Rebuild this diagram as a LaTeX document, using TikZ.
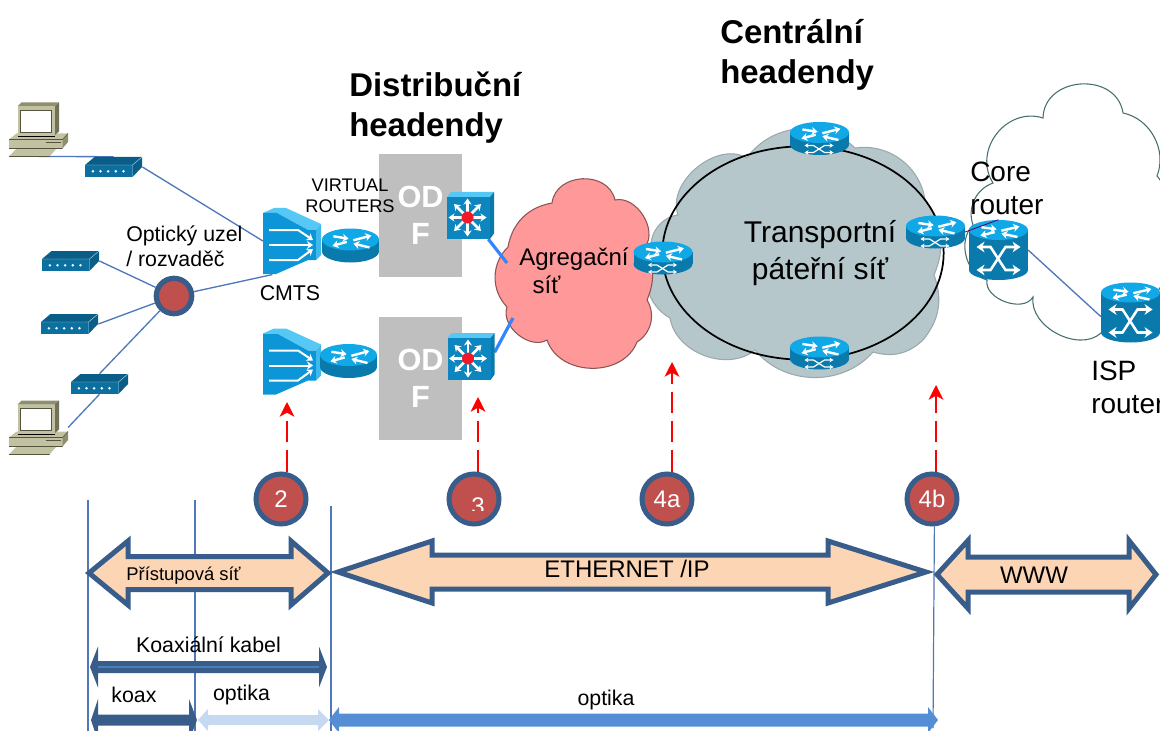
\documentclass[tikz,border=0pt]{standalone}
\usepackage{fontspec}
\setmainfont{Liberation Sans}
\usetikzlibrary{arrows.meta}
\usetikzlibrary{shapes.geometric}

\definecolor{lidblue}{HTML}{10A8E6}
\definecolor{bodyblue}{HTML}{0A79AB}
\definecolor{modemblue}{HTML}{0B6F9F}
\definecolor{cmtsblue}{HTML}{0C96D8}
\definecolor{cmtslight}{HTML}{55C8F5}
\definecolor{switchblue}{HTML}{0D85BE}
\definecolor{pcfront}{HTML}{C2C2A2}
\definecolor{pcdark}{HTML}{8F8F6F}
\definecolor{pcline}{HTML}{55553D}
\definecolor{linkblue}{HTML}{4F78BA}
\definecolor{rimblue}{HTML}{385D8A}
\definecolor{numred}{HTML}{C0504D}
\definecolor{peach}{HTML}{FCD5B5}
\definecolor{midblue}{HTML}{4A7EBB}
\definecolor{paleblue}{HTML}{C6D9F1}
\definecolor{fibreblue}{HTML}{558ED5}
\definecolor{odfgrey}{HTML}{BFBFBF}
\definecolor{transgrey}{HTML}{B5C7CB}
\definecolor{aggred}{HTML}{FF9999}

\newcommand{\lidarrows}{ % four arrows on a router lid
  \draw[lidarrow] (-18,-4) -- (-2,-1);
  \draw[lidarrow] (3,1) -- (22,-5);
  \draw[lidarrow] (-4,3) -- (-19,8);
  \draw[lidarrow] (20,10) -- (3,5);
}
% style, tip left, back left, back right, tip right, mid y, half shaft, half barb
\newcommand{\bararrow}[8]{
  \path[#1] (#2,#6) -- (#3,#6-#8) -- (#3,#6-#7) -- (#4,#6-#7) -- (#4,#6-#8) -- (#5,#6)
    -- (#4,#6+#8) -- (#4,#6+#7) -- (#3,#6+#7) -- (#3,#6+#8) -- cycle;
}

\tikzset{every node/.style={align=center, inner sep=0pt},
         iconbox/.style={rectangle},
         routerbox/.style={iconbox, minimum width=43pt, minimum height=26pt},
         richbox/.style={iconbox, minimum width=44pt, minimum height=25pt},
         corebox/.style={iconbox, minimum width=44pt, minimum height=45pt},
         cmtsbox/.style={iconbox, minimum width=44pt, minimum height=50pt},
         switchbox/.style={iconbox, minimum width=35pt, minimum height=35pt},
         modembox/.style={iconbox, minimum width=43pt, minimum height=15pt},
         pcbox/.style={iconbox, minimum width=44pt, minimum height=40pt},
         lidarrow/.style={white, line width=1.8pt, -{Stealth[length=4.5pt,width=6pt]}},
         shufarrow/.style={white, line width=0.9pt, {Stealth[length=3pt,width=3.5pt]}-{Stealth[length=3pt,width=3.5pt]}},
         bigshuf/.style={white, line width=1.9pt, {Stealth[length=6pt,width=8pt]}-{Stealth[length=6pt,width=8pt]}},
         odfbox/.style={rectangle, fill=odfgrey, minimum width=62.5pt, minimum height=92.5pt,
           text=white, font=\fontsize{23}{28}\selectfont\bfseries},
         numcircle/.style={circle, draw=rimblue, fill=numred, line width=3.75pt, minimum size=37.5pt,
           text=white, font=\fontsize{18}{21}\selectfont},
         optnode/.style={circle, draw=rimblue, fill=numred, line width=4pt, minimum size=26.5pt},
         link/.style={draw=linkblue, line width=1pt},
         guide/.style={draw=linkblue, line width=0.9pt},
         thicklink/.style={draw=blue!60!cyan!80, line width=2.4pt},
         probe/.style={draw=red, line width=1.6pt, dash pattern=on 16pt off 6pt,
           -{Stealth[length=11pt,width=11pt,inset=3pt]}},
         blockarrow/.style={draw=rimblue, fill=peach, line width=3.75pt},
         bigtitle/.style={anchor=west, align=left, font=\fontsize{24.7}{30.3}\selectfont\bfseries},
         biglabel/.style={font=\fontsize{22.5}{28}\selectfont},
         routerlabel/.style={anchor=west, align=left, font=\fontsize{21}{24.7}\selectfont},
         midlabel/.style={font=\fontsize{18}{21}\selectfont},
         smalllabel/.style={font=\fontsize{16}{18.7}\selectfont},
         tinylabel/.style={font=\fontsize{13.8}{15.8}\selectfont},
         routericon/.pic={
           \fill[bodyblue] (0,6) ellipse (28.5 and 11);
           \fill[bodyblue] (-28.5,-6) rectangle (28.5,6);
           \fill[lidblue] (0,-6) ellipse (28.5 and 11);
           \begin{scope}[yshift=4.5pt, xscale=0.95, yscale=0.8]\lidarrows\end{scope}
         },
         richicon/.pic={
           \fill[bodyblue] (0,6) ellipse (29.5 and 10.5);
           \fill[bodyblue] (-29.5,-6) rectangle (29.5,6);
           \fill[lidblue] (0,-6) ellipse (29.5 and 10.5);
           \begin{scope}[yshift=4.5pt, xscale=0.95, yscale=0.75]\lidarrows\end{scope}
           \draw[shufarrow] (-15,7) -- (-6,7) -- (5,14) -- (14,14);
           \draw[shufarrow] (-15,14) -- (-6,14) -- (5,7) -- (14,7);
         },
         coreicon/.pic={
           \fill[bodyblue] (0,20) ellipse (29.5 and 10);
           \fill[bodyblue] (-29.5,-20) rectangle (29.5,20);
           \fill[lidblue] (0,-20) ellipse (29.5 and 10);
           \begin{scope}[yshift=15pt, xscale=0.95, yscale=0.7]\lidarrows\end{scope}
           \draw[bigshuf] (-22,-3) -- (-8,-3) -- (7,20) -- (22,20);
           \draw[bigshuf] (-22,20) -- (-8,20) -- (7,-3) -- (22,-3);
         },
         cmtsicon/.pic={
           \fill[cmtslight] (-29.5,-28) -- (-18.5,-33) -- (-6.5,-33) -- (28.5,-17) -- (23.5,-11) -- (15.5,-11) -- (-15.5,-28) -- cycle;
           \fill[cmtsblue] (-29.5,-28) -- (-15.5,-28) -- (15.5,-11) -- (23.5,-11) -- (23.5,19) -- (15.5,19) -- (-16.5,33) -- (-29.5,33) -- cycle;
           \fill[cmtslight!70!cmtsblue] (23.5,-11) -- (28.5,-17) -- (28.5,14) -- (23.5,19) -- cycle;
           \foreach \u/\v in {-11/-1,4/4,19/8} {
             \draw[white, line width=1.5pt, -{Stealth[length=4.5pt,width=6pt]}] (-23.5,\u) -- (5.5,\u) -- (20.5,\v);
           }
         },
         switchicon/.pic={
           \fill[cmtslight] (-23.5,-18.5) -- (-19.5,-23.5) -- (23.5,-23.5) -- (19.5,-18.5) -- cycle;
           \fill[bodyblue] (19.5,-18.5) -- (23.5,-23.5) -- (23.5,18) -- (19.5,23.5) -- cycle;
           \fill[switchblue] (-23.5,-18.5) rectangle (19.5,23.5);
           \begin{scope}[shift={(-3,2)}]
             \foreach \ang in {0,45,...,315} {
               \draw[white, line width=1.9pt, -{Stealth[length=4.5pt,width=6pt]}] (\ang:5) -- (\ang:19);
             }
             \fill[red!75!purple!90!white] (0,0) circle (6);
           \end{scope}
         },
         modemicon/.pic={
           \fill[modemblue!85!black] (-28.5,-2) -- (-19,-10) -- (28.5,-10) -- (19,-2) -- cycle;
           \fill[modemblue!85!black] (19,-2) -- (28.5,-10) -- (28.5,0) -- (19,10) -- cycle;
           \fill[modemblue] (-28.5,-2) rectangle (19,10);
           \draw[white!70!modemblue, line width=0.3pt] (-28.5,-2) -- (19,-2) -- (28.5,-10) (19,-2) -- (19,10);
           \foreach \u in {-20.6,-13,-5.4,2.3,10} {
             \fill[white] (\u,4.3) circle (1.4);
           }
         },
         pcicon/.pic={
           \fill[pcfront] (-29.5,10) -- (-22,4) -- (29.5,4) -- (24,10) -- cycle;
           \fill[pcfront] (-29.5,10) rectangle (24,19);
           \fill[pcdark] (24,10) -- (29.5,4) -- (29.5,12.5) -- (24,19) -- cycle;
           \fill[pcfront] (-29.5,27) -- (-22,19) -- (18,19) -- (11,27) -- cycle;
           \draw[pcline, line width=0.4pt] (-29.5,10) -- (24,10) -- (29.5,4) (-29.5,19) -- (24,19) (-29.5,27) -- (11,27);
           \draw[pcline, line width=0.7pt] (7,13) -- (22,13);
           \fill[pcdark] (-21,-23) -- (-17,-27) -- (20.5,-27) -- (16,-23) -- cycle;
           \fill[pcdark!80!black] (16,-23) -- (20.5,-27) -- (20.5,2) -- (16,6) -- cycle;
           \fill[pcfront] (-21,-23) rectangle (16,6);
           \fill[white] (-18,-19) rectangle (13,3);
           \draw[pcline, line width=0.5pt] (-18,-19) rectangle (13,3);
           \draw[black, line width=0.9pt] (-21,7) -- (16,7);
         }}

\begin{document}
\begin{tikzpicture}[x=0.75pt, y=-0.75pt]
  \path[use as bounding box, clip] (0,0) rectangle (1160,731);

  % clouds
  \draw[fill=white, draw=black!30!teal!45!gray, line width=0.8pt] (993,183)
    to[bend left=70, looseness=1.2] (1043,118) to[bend left=85, looseness=1.35] (1123,113) to[bend left=50] (1157,176)
    to[bend left=60] (1101,333) to[bend left=70] (1033,297) to[bend left=80] (987,280)
    to[bend left=60] (973,225) to[bend left=45] cycle;
  \draw[fill=transgrey, draw=transgrey!85!black, line width=0.8pt] (652,255)
    to[bend left=50] (678,215) to[bend left=70] (747,158) to[bend left=50] (855,148)
    to[bend left=45] (925,200) to[bend left=30] (934,275) to[bend left=30] (923,340)
    to[bend left=30] (873,352) to[bend left=50] (755,350) to[bend left=60] (670,318)
    to[bend left=45] cycle;
  \node[draw=black, line width=1.3pt, ellipse, minimum width=211pt, minimum height=160pt] (ringT) at (803,253) {};
  \draw[fill=aggred, draw=aggred!55!black, line width=0.8pt] (552,203)
    to[bend left=80, looseness=1.25] (615,200) to[bend left=70] (645,247) to[bend left=25] (647,300)
    to[bend left=45] (637,342) to[bend left=70, looseness=1.1] (547,340) to[bend left=70] (507,307)
    to[bend left=45] (508,247) to[bend left=35] cycle;

  % places of the icons
  \node[odfbox] (odfA) at (420.5,215.5) {OD\\F};
  \node[odfbox] (odfB) at (420.5,378.5) {OD\\F};
  \node[pcbox] (compA) at (38.5,129.5) {};
  \node[pcbox] (compB) at (38.5,427.5) {};
  \node[modembox] (mdmA) at (113.5,167) {};
  \node[modembox] (mdmB) at (70.5,261) {};
  \node[modembox] (mdmC) at (69.5,324) {};
  \node[modembox] (mdmD) at (99.5,384) {};
  \node[cmtsbox] (cmtsA) at (292.5,241) {};
  \node[cmtsbox] (cmtsB) at (292.5,361.5) {};
  \node[routerbox] (rtrA) at (350.5,245.5) {};
  \node[routerbox] (rtrB) at (348.5,361) {};
  \node[switchbox] (swA) at (470.5,215.5) {};
  \node[switchbox] (swB) at (471,356.5) {};
  \node[richbox] (rchA) at (663,258) {};
  \node[richbox] (rchB) at (819.5,138.5) {};
  \node[richbox] (rchC) at (935.5,232) {};
  \node[richbox] (rchD) at (819.5,353) {};
  \node[corebox] (coreR) at (998.5,250) {};
  \node[corebox] (ispR) at (1130.5,312.5) {};
  \node[optnode] (optA) at (174,296) {};
  \coordinate (aggInA) at (507,263);
  \coordinate (aggInB) at (513,318);

  % links
  \draw[link] (compA.south) -- (mdmA.north);
  \draw[link] (mdmA.east) -- (cmtsA.west);
  \draw[link] (optA) -- (cmtsA.-121);
  \draw[link] (optA) -- (mdmB.east);
  \draw[link] (optA) -- (mdmC.east);
  \draw[link] (optA) -- (mdmD.north);
  \draw[link] (mdmD.south) -- (compB.east);
  \draw[link] (coreR.east) -- (ispR.-172);
  \draw[thicklink] (swA.-53) -- (aggInA);
  \draw[thicklink] (swB.10) -- (aggInB);

  % icons
  \foreach \nm in {compA,compB} {\pic at (\nm) {pcicon};}
  \foreach \nm in {mdmA,mdmB,mdmC,mdmD} {\pic at (\nm) {modemicon};}
  \foreach \nm in {cmtsA,cmtsB} {\pic at (\nm) {cmtsicon};}
  \foreach \nm in {rtrA,rtrB} {\pic at (\nm) {routericon};}
  \foreach \nm in {swA,swB} {\pic at (\nm) {switchicon};}
  \foreach \nm in {rchA,rchB,rchC,rchD} {\pic at (\nm) {richicon};}
  \foreach \nm in {coreR,ispR} {\pic at (\nm) {coreicon};}
  \draw[draw=violet!70!black, line width=0.6pt] (rchC.east) -- (coreR.north);

  % bars under the arrows
  \coordinate (barAt) at (88,500);
  \coordinate (barAb) at (88,731);
  \coordinate (barBt) at (195,500);
  \coordinate (barBb) at (195,731);
  \coordinate (barCt) at (331,506);
  \coordinate (barCb) at (331,731);
  \coordinate (barDb) at (933,728);
  \node[numcircle] (numA) at (281,499) {2};
  \node[numcircle] (numB) at (474,499) {};
  \node[numcircle] (numC) at (667,499) {4a};
  \node[numcircle] (numD) at (932,499) {4b};
  \begin{scope}
    \clip (450,480) rectangle (500,510);
    \node[text=white, font=\fontsize{18}{21}\selectfont] (numBtext) at (478,506) {3};
  \end{scope}
  \draw[guide] (barAt) -- (barAb);
  \draw[guide] (barBt) -- (barBb);
  \draw[guide] (barCt) -- (barCb);
  \draw[guide] (numD.-85) -- (barDb);

  % probes
  \coordinate (tipA) at (287,402);
  \coordinate (tipB) at (478,397);
  \coordinate (tipC) at (672,362);
  \coordinate (tipD) at (936,385);
  \draw[probe] (tipA |- numA.north) -- (tipA);
  \draw[probe] (tipB |- numB.north) -- (tipB);
  \draw[probe] (tipC |- numC.north) -- (tipC);
  \draw[probe] (tipD |- numD.north) -- (tipD);

  % block arrows
  \bararrow{blockarrow}{89}{128}{291}{328}{573}{16.5}{32}
  \bararrow{blockarrow}{338}{432}{828}{926}{572}{17}{31}
  \bararrow{blockarrow}{937}{968}{1129}{1156}{574.5}{17.5}{34}
  \bararrow{fill=rimblue}{90}{98}{319}{327}{667}{6}{20.5}
  \draw[midblue, line width=2.2pt] (98,667) -- (319,667);
  \bararrow{fill=rimblue}{91}{98}{189}{197}{720}{5.5}{21}
  \bararrow{fill=paleblue}{198}{208}{318}{329}{720}{5}{11}
  \bararrow{fill=fibreblue}{329}{339}{928}{938}{720}{6.5}{13}

  % labels
  \node[bigtitle] (titleDist) at (349,107.5) {Distribuční\\headendy};
  \node[bigtitle] (titleCent) at (720,55) {Centrální\\headendy};
  \node[biglabel] (lblTrans) at (820,253) {Transportní\\páteřní síť};
  \node[anchor=west, align=left, midlabel] (lblAgg) at (519,271) {Agregační\\\ \ síť};
  \node[routerlabel] (lblCore) at (970,188) {Core\\router};
  \node[routerlabel] (lblIsp) at (1091,387) {ISP\\router};
  \node[anchor=west, align=left, smalllabel] (lblOpt) at (126,246) {Optický uzel\\/ rozvaděč};
  \node[smalllabel] (lblCmts) at (290,293) {CMTS};
  \node[font=\fontsize{13.7}{15.7}\selectfont] (lblVirt) at (350,195.5) {VIRTUAL\\ROUTERS};
  \node[tinylabel] (lblAcc) at (183.5,576) {Přístupová síť};
  \node[midlabel] (lblEth) at (627,569) {ETHERNET /IP};
  \node[midlabel] (lblWww) at (1034,575) {WWW};
  \node[smalllabel] (lblKab) at (208.5,645) {Koaxiální kabel};
  \node[smalllabel] (lblKoax) at (134,695) {koax};
  \node[smalllabel] (lblOptA) at (241.5,695) {optika};
  \node[smalllabel] (lblOptB) at (606,700) {optika};
\end{tikzpicture}
\end{document}
